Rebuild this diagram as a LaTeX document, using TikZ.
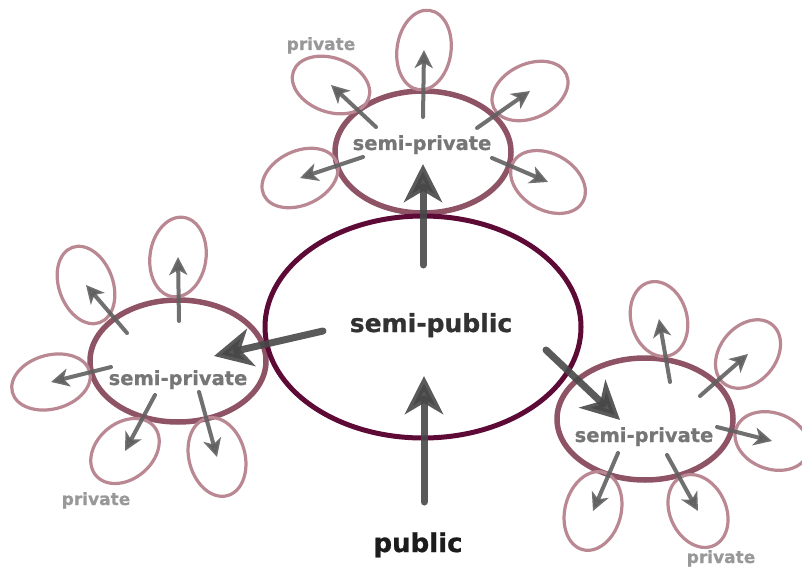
\documentclass[tikz,border=0pt]{standalone}
\usepackage{fontspec}
\setsansfont{DejaVu Sans}[BoldFeatures={FakeBold=0.8}]
\usepackage{tikz}
\usetikzlibrary{arrows.meta}
\usetikzlibrary{shapes.geometric}

\definecolor{pubring}{RGB}{94,10,55}
\definecolor{semiring}{RGB}{142,84,102}
\definecolor{privring}{RGB}{186,136,146}
\definecolor{arrgray}{RGB}{96,96,96}
\definecolor{bigarr}{RGB}{72,72,72}
\definecolor{semitext}{RGB}{118,118,118}
\definecolor{privtext}{RGB}{152,152,152}

\begin{document}
\begin{tikzpicture}[line cap=round,line join=round,x=1pt,y=-1pt,
  ring/.style={ellipse,draw,inner sep=0pt},
  pubellipse/.style={ring,draw=pubring,line width=5pt},
  semiellipse/.style={ring,draw=semiring,line width=5.5pt,minimum width=176,minimum height=122},
  privellipse/.style={ring,draw=privring,line width=3.2pt},
  smallarrow/.style={draw=arrgray,opacity=0.9,line width=4pt,-{Stealth[length=18pt,width=18pt,inset=5pt]}},
  bigarrow/.style={draw=bigarr,opacity=0.9,line width=7pt,-{Stealth[length=38pt,width=38pt,inset=11pt]}},
  sptext/.style={text=semitext,font=\sffamily\bfseries\fontsize{19.5}{22}\selectfont,anchor=base},
  pvtext/.style={text=privtext,font=\sffamily\bfseries\fontsize{17}{20}\selectfont,anchor=base}]
% Draw region settings
\useasboundingbox (0,0) rectangle (802,569);
\clip (0,0) rectangle (802,569);
% Rings
\node[semiellipse] (tsp) at (423,152) {};
\node[semiellipse] (lsp) at (178,361) {};
\node[semiellipse] (rsp) at (645,419) {};
\node[pubellipse,minimum width=316,minimum height=222] (pub) at (423,327) {};
% private rings with their arrows
\foreach \nm/\cx/\cy/\sx/\sy/\r/\a/\b in {
    tp1/331/85/376/127/-20/40/27, tp2/424/50/423/117/-8/27/40,
    tp3/530/91/477/128/25/40/27, tp4/548/182/492/158/-30/40/28,
    tp5/300/178/363/157/25/40/27,
    lp1/86/285/127/333/20/27/40, lp2/178/257/179/321/-8/28/40,
    lp3/51/382/111/367/15/40/27, lp4/125/451/155/395/40/38/28,
    lp5/217/457/199/392/15/28/40,
    rp1/659/319/670/382/15/28/38, rp2/748/354/700/396/50/38/28,
    rp3/772/441/717/427/-20/38/28, rp4/593/511/618/453/-15/28/40,
    rp5/698/511/667/455/25/28/38}{
  \node[privellipse,rotate=\r,minimum width={2*\a},minimum height={2*\b}] (\nm) at (\cx,\cy) {};
  \coordinate (\nm-s) at (\sx,\sy);
  \draw[smallarrow] (\nm-s) -- (\nm.center);
}
% big arrows
\coordinate (up-s) at (423,265);
\coordinate (up-e) at (423,164);
\coordinate (left-s) at (323,331);
\coordinate (left-e) at (214,356);
\coordinate (right-s) at (546,350);
\coordinate (right-e) at (620,420);
\coordinate (in-s) at (424,502);
\coordinate (in-e) at (424,376);
\draw[bigarrow] (up-s) -- (up-e);
\draw[bigarrow] (left-s) -- (left-e);
\draw[bigarrow] (right-s) -- (right-e);
\draw[bigarrow] (in-s) -- (in-e);
% labels
\node[sptext] (tsp-t) at (422,150) {semi-private};
\node[sptext] (lsp-t) at (178,385) {semi-private};
\node[sptext] (rsp-t) at (644,442) {semi-private};
\node[pvtext] (tp-t) at (321,50) {private};
\node[pvtext] (lp-t) at (96,505) {private};
\node[pvtext] (rp-t) at (721,563) {private};
\node[anchor=base,text={rgb,255:red,50;green,50;blue,50},font=\sffamily\bfseries\fontsize{25}{30}\selectfont] (pub-t) at (431,332) {semi-public};
\node[anchor=base,text={rgb,255:red,28;green,28;blue,28},font=\sffamily\bfseries\fontsize{26}{30}\selectfont] (public-t) at (418,552) {public};
\end{tikzpicture}
\end{document}
